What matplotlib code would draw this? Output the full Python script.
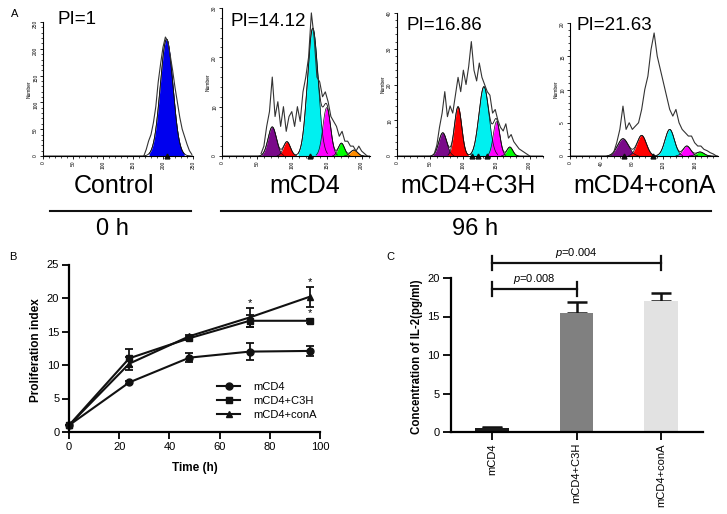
import numpy as np
import matplotlib
matplotlib.use("Agg")
import matplotlib.pyplot as plt
from matplotlib.ticker import MultipleLocator, AutoMinorLocator

plt.rcParams['font.family'] = ['Liberation Sans', 'DejaVu Sans']
plt.rcParams['mathtext.fontset'] = 'custom'
plt.rcParams['mathtext.rm'] = 'Liberation Sans'
plt.rcParams['mathtext.it'] = 'Liberation Sans:italic'

W, H = 727, 514
INK = '#111111'

# ---------- Panel A: CFSE histograms (channel, count) ----------
ctrl_bins = [168, 172, 176, 180, 184, 188, 192, 196, 200, 204, 208, 212, 216, 220, 224, 228, 232, 236, 240, 244, 248]
ctrl_counts = [0, 12, 28, 40, 62, 92, 138, 172, 203, 222, 214, 188, 160, 128, 100, 72, 50, 36, 22, 10, 3]

mcd4_bins = [56, 60, 64, 68, 72, 76, 80, 84, 88, 92, 96, 100, 104, 108, 112, 116, 120, 124, 128, 132,
             136, 140, 144, 148, 152, 156, 160, 164, 168, 172, 176, 180, 184, 188, 192, 196, 200, 204, 208]
mcd4_counts = [0.5, 2, 6, 9, 16, 8, 11, 6, 10, 5, 8, 9, 6, 10, 7, 13, 16, 20, 29, 24,
               16, 15, 12, 13, 11, 8, 7, 6, 4, 5, 3, 3, 2, 2, 1, 2, 1, 0.5, 0]

c3h_bins = [56, 60, 64, 68, 72, 76, 80, 84, 88, 92, 96, 100, 104, 108, 112, 116, 120, 124, 128, 132,
            136, 140, 144, 148, 152, 156, 160, 164, 168, 172, 176, 180, 184, 188, 192, 196, 200]
c3h_counts = [0.5, 3, 8, 12, 18, 11, 14, 12, 17, 22, 18, 24, 20, 25, 32, 24, 21, 26, 22, 20,
              18, 17, 12, 13, 10, 8, 7, 9, 5, 6, 4, 3, 2, 1.5, 1, 0.5, 0]

cona_bins = [52, 56, 60, 64, 68, 72, 76, 80, 84, 88, 92, 96, 100, 104, 108, 112, 116, 120, 124, 128,
             132, 136, 140, 144, 148, 152, 156, 160, 164, 168, 172, 176, 180, 184, 188]
cona_counts = [0, 0.5, 2, 4, 7.5, 4, 5, 4, 4.5, 5, 7, 10, 12, 16, 18.5, 15, 13, 11, 9, 7,
               6, 7, 5, 4, 3.5, 3, 3, 2, 1.5, 1.5, 1, 0.8, 0.5, 0.3, 0]

# fitted generation peaks: centre, height, width
ctrl_peak_c, ctrl_peak_h, ctrl_peak_w = [206], [218], [10.5]
mcd4_peak_c = [72, 93, 130, 150, 171, 189]
mcd4_peak_h = [5.9, 2.9, 25.9, 9.8, 2.6, 1.2]
mcd4_peak_w = [6, 5, 7.5, 5.5, 4.5, 5]
c3h_peak_c = [69, 92, 131, 150, 170]
c3h_peak_h = [6.5, 13.8, 19.4, 9.6, 2.5]
c3h_peak_w = [6, 5.5, 7.5, 5, 4.5]
cona_peak_c = [68, 92, 128, 150, 167]
cona_peak_h = [2.6, 3.1, 4.0, 1.5, 0.6]
cona_peak_w = [7, 6, 6, 5, 5]
gen_colors = ['#7a0a8a', '#ff0000', '#00f0f0', '#ff00ff', '#00ff00', '#ff8c00']

pi_labels = ['PI=1', 'PI=14.12', 'PI=16.86', 'PI=21.63']
group_labels = ['Control', 'mCD4', 'mCD4+C3H', 'mCD4+conA']

# ---------- Panel B: proliferation index ----------
time_h = [0, 24, 48, 72, 96]
pi_mcd4 = [1.0, 7.4, 11.1, 12.0, 12.1]
err_mcd4 = [0, 0.25, 0.7, 1.3, 0.8]
pi_c3h = [1.0, 11.0, 14.0, 16.6, 16.6]
err_c3h = [0, 1.35, 0.25, 0.9, 0.3]
pi_cona = [1.0, 10.2, 14.3, 17.1, 20.2]
err_cona = [0, 1.0, 0.2, 1.4, 1.5]
star_x = [72, 96, 96]
star_y = [19.3, 22.4, 17.8]

# ---------- Panel C: IL-2 ----------
il2_groups = ['mCD4', 'mCD4+C3H', 'mCD4+conA']
il2_mean = [0.5, 15.5, 17.0]
il2_err = [0.1, 1.4, 1.1]
il2_colors = ['#1a1a1a', '#808080', '#e2e2e2']


def px(x, y):
    return x / W, 1 - y / H


def rect(l, t, r, b):
    return [l / W, 1 - b / H, (r - l) / W, (b - t) / H]


fig = plt.figure(figsize=(W / 100, H / 100), dpi=100)


def draw_hist(box, bins, counts, pc, ph, pw, colors, xlim, ylim, xstep, ystep, marks):
    ax = fig.add_axes(box)
    grid = np.linspace(xlim[0], xlim[1], 800)
    total = np.zeros_like(grid)
    for c, h, w, col in zip(pc, ph, pw, colors):
        g = h * np.exp(-0.5 * ((grid - c) / w) ** 2)
        total += g
        m = g > 0.02 * h
        ax.fill_between(grid[m], 0, g[m], color=col, lw=0)
        ax.plot(grid[m], g[m], color=INK, lw=0.5)
    ax.plot(grid, total, color=INK, lw=0.6)
    ax.plot(bins, counts, color='#333333', lw=0.8)
    ax.plot(marks, [0] * len(marks), '^', color=INK, ms=3.5, clip_on=False)
    ax.set_xlim(*xlim)
    ax.set_ylim(*ylim)
    for s in ['top', 'right']:
        ax.spines[s].set_visible(False)
    for s in ['left', 'bottom']:
        ax.spines[s].set_linewidth(0.8)
    ax.xaxis.set_major_locator(MultipleLocator(xstep))
    ax.yaxis.set_major_locator(MultipleLocator(ystep))
    ax.xaxis.set_minor_locator(AutoMinorLocator(5))
    ax.yaxis.set_minor_locator(AutoMinorLocator(5))
    ax.tick_params(which='major', length=2.5, width=0.6, labelsize=3.5, pad=1)
    ax.tick_params(which='minor', length=1.5, width=0.5)
    ax.tick_params(axis='both', labelrotation=90)
    ax.set_ylabel('Number', fontsize=3.5, labelpad=1)
    ax.patch.set_alpha(0)
    return ax


draw_hist(rect(43, 22, 193, 156), ctrl_bins, ctrl_counts, ctrl_peak_c, ctrl_peak_h, ctrl_peak_w,
          ['#0000ee'], (0, 250), (0, 250), 50, 50, [206])
draw_hist(rect(222, 8, 370, 156), mcd4_bins, mcd4_counts, mcd4_peak_c, mcd4_peak_h, mcd4_peak_w,
          gen_colors, (0, 212), (0, 30), 50, 10, [126])
draw_hist(rect(397, 13, 543, 156), c3h_bins, c3h_counts, c3h_peak_c, c3h_peak_h, c3h_peak_w,
          gen_colors, (0, 220), (0, 40), 50, 10, [113, 122, 135])
draw_hist(rect(570, 23, 718, 156), cona_bins, cona_counts, cona_peak_c, cona_peak_h, cona_peak_w,
          gen_colors, (0, 190), (0, 20), 40, 5, [69, 106])

pi_pos = [(57, 20), (230, 21), (407, 25), (577, 25)]
for t, (x, y) in zip(pi_labels, pi_pos):
    fig.text(*px(x, y), t, fontsize=13.5, ha='left', va='center')
grp_pos = [114, 305, 468, 645]
for t, x in zip(group_labels, grp_pos):
    fig.text(*px(x, 186), t, fontsize=18, ha='center', va='center')

fig.add_artist(plt.Line2D([50 / W, 191 / W], [1 - 211 / H] * 2, color=INK, lw=1.5))
fig.add_artist(plt.Line2D([221 / W, 711 / W], [1 - 211 / H] * 2, color=INK, lw=1.5))
fig.text(*px(112, 229), '0 h', fontsize=17, ha='center', va='center')
fig.text(*px(475, 229), '96 h', fontsize=17, ha='center', va='center')

fig.text(*px(15, 14), 'A', fontsize=8, ha='center', va='center')
fig.text(*px(13, 257), 'B', fontsize=8, ha='center', va='center')
fig.text(*px(390, 257), 'C', fontsize=8, ha='center', va='center')

# ---------- B ----------
axB = fig.add_axes(rect(69, 264.5, 320, 432))
series = [(pi_mcd4, err_mcd4, 'o', 'mCD4'), (pi_c3h, err_c3h, 's', 'mCD4+C3H'),
          (pi_cona, err_cona, '^', 'mCD4+conA')]
for vals, errs, mk, lab in series:
    axB.errorbar(time_h, vals, yerr=errs, fmt='none', ecolor=INK,
                 elinewidth=1.3, capsize=3, capthick=1.3, clip_on=False)
    axB.plot(time_h, vals, marker=mk, ms=5, color=INK, lw=1.5, label=lab, clip_on=False)
for x, y in zip(star_x, star_y):
    axB.text(x, y, '*', fontsize=8, ha='center', va='center')
axB.set_xlim(0, 100)
axB.set_ylim(0, 25)
axB.xaxis.set_major_locator(MultipleLocator(20))
axB.yaxis.set_major_locator(MultipleLocator(5))
for s in ['top', 'right']:
    axB.spines[s].set_visible(False)
for s in ['left', 'bottom']:
    axB.spines[s].set_linewidth(1.6)
axB.tick_params(length=5, width=1.3, labelsize=8, pad=2)
axB.legend(loc='upper left', bbox_to_anchor=px(217, 382), bbox_transform=fig.transFigure,
           frameon=False, fontsize=8, handlelength=2.1, handletextpad=1.2,
           labelspacing=0.35, borderpad=0, borderaxespad=0)
fig.text(*px(36, 350), 'Proliferation index', fontsize=8.5, fontweight='bold',
         rotation=90, ha='center', va='center')
fig.text(*px(195, 468), 'Time (h)', fontsize=8.5, fontweight='bold', ha='center', va='center')

# ---------- C ----------
axC = fig.add_axes(rect(451, 278, 703, 432))
xs = np.arange(len(il2_groups))
axC.bar(xs, il2_mean, width=0.4, color=il2_colors, zorder=2)
axC.errorbar(xs, il2_mean, yerr=[[0] * len(xs), il2_err], fmt='none', ecolor=INK,
             elinewidth=1.8, capsize=7, capthick=1.8, zorder=1)
axC.set_xlim(-0.49, 2.5)
axC.set_ylim(0, 20)
axC.set_xticks(xs)
axC.set_xticklabels(il2_groups, rotation=90, fontsize=8)
axC.yaxis.set_major_locator(MultipleLocator(5))
for s in ['top', 'right']:
    axC.spines[s].set_visible(False)
for s in ['left', 'bottom']:
    axC.spines[s].set_linewidth(1.6)
axC.tick_params(length=6, width=1.3, labelsize=8, pad=2)
for (a, b), yb, txt in [((0, 1), 18.57, '$\\it{p}$=0.008'), ((0, 2), 21.95, '$\\it{p}$=0.004')]:
    axC.plot([a, b], [yb, yb], color=INK, lw=1.6, clip_on=False)
    for e in (a, b):
        axC.plot([e, e], [yb - 0.9, yb + 0.9], color=INK, lw=1.6, clip_on=False)
    axC.text((a + b) / 2, yb + 1.3, txt, fontsize=8, ha='center', va='center')
fig.text(*px(417, 357), 'Concentration of IL-2(pg/ml)', fontsize=8.3, fontweight='bold',
         rotation=90, ha='center', va='center')

fig.savefig('out.png', dpi=100)
